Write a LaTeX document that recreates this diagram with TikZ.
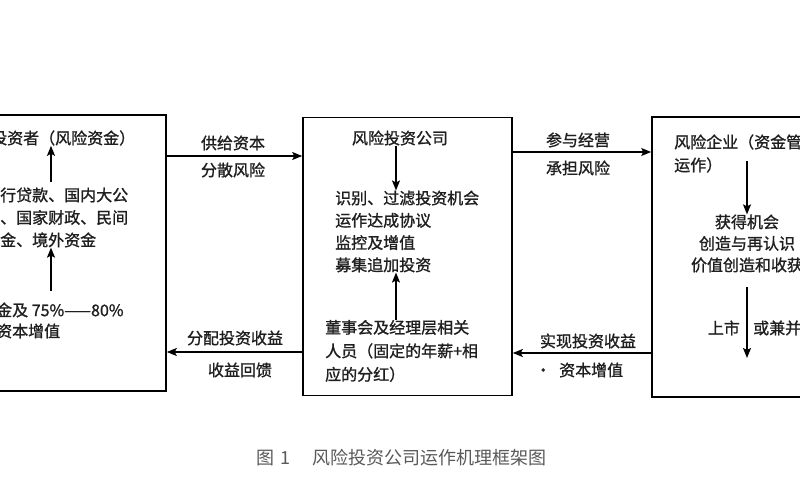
\documentclass[tikz,border=0pt]{standalone}
\usepackage{fontspec}
\setmainfont{Noto Sans CJK SC}
\newfontfamily\boldcjk{Noto Sans CJK SC}[FakeBold=1.2]
\usetikzlibrary{arrows.meta,calc}
\begin{document}
\begin{tikzpicture}[x=1pt,y=-1pt,
  box/.style={draw=black,line width=1.6pt,inner sep=0pt},
  txt/.style={inner sep=0pt,text=black!88,font=\boldcjk\fontsize{16}{22.5}\selectfont},
  arr/.style={line width=1.5pt,-{Stealth[length=10pt,width=8pt,inset=2pt]}},
  lbl/.style={inner sep=0pt,text=black!88,font=\boldcjk\fontsize{16}{20}\selectfont}]
\useasboundingbox (0,0) rectangle (800,500);
\clip (0,0) rectangle (800,500);
\fill[white] (0,0) rectangle (800,500);
% boxes
\node[box,minimum width=226pt,minimum height=276pt] (L) at (53,253) {};
\node[box,minimum width=209pt,minimum height=278pt] (M) at (407.5,256.5) {};
\node[box,minimum width=260pt,minimum height=280pt] (R) at (782,257) {};
% left texts
\node[txt,anchor=west] (L1) at (-9,138) {投资者（风险资金）};
\node[txt,anchor=west,align=left] (L2) at (-16,217.5) {\phantom{银}行贷款、国内大公\\\phantom{司}、国家财政、民间\\\phantom{资}金、境外资金};
\node[txt,anchor=west,align=left,font=\boldcjk\fontsize{16}{21}\selectfont] (L3) at (-4,320.5) {金及 75\%——80\%\\资本增值};
\coordinate (xL) at (51,0);
\coordinate (l2t) at (51,182);
\coordinate (l3t) at (51,291);
\draw[arr] (l2t) -- (L1.south -| xL);
\draw[arr] (l3t) -- (L2.south -| xL);
% middle texts
\node[txt] (M1) at (400,138) {风险投资公司};
\node[txt,anchor=west,align=left,font=\boldcjk\fontsize{16}{22.3}\selectfont] (M2) at (335,231.5) {识别、过滤投资机会\\运作达成协议\\监控及增值\\募集追加投资};
\node[txt,anchor=west,align=left,font=\boldcjk\fontsize{16}{23.5}\selectfont] (M3) at (325,351) {董事会及经理层相关\\人员（固定的年薪+相\\应的分红）};
\coordinate (xM) at (396,0);
\draw[arr] (M1.south -| xM) -- (M2.north -| xM);
\draw[arr] (M3.north -| xM) -- (M2.south -| xM);
% right texts
\node[txt,anchor=west,align=left,font=\boldcjk\fontsize{16}{23}\selectfont] (R1) at (674,153.5) {风险企业（资金管\\运作）};
\node[txt,align=center,font=\boldcjk\fontsize{16}{21.5}\selectfont] (R2) at (747,243.5) {获得机会\\创造与再认识\\价值创造和收获};
\coordinate (r1s) at (747,161);
\coordinate (r2s) at (747,287);
\coordinate (r3e) at (747,358);
\draw[arr] (r1s) -- (R2.north);
\draw[arr] (r2s) -- (r3e);
\node[txt,anchor=east] (ss) at (740,328) {上市};
\node[txt,anchor=west] (jb) at (753,328) {或兼并};
% connectors between boxes
\coordinate (y1) at (0,156);
\coordinate (y2) at (0,152);
\coordinate (y3) at (0,352);
\coordinate (y4) at (0,353);
\draw[arr] (L.east |- y1) -- (M.west |- y1);
\draw[arr] (M.east |- y2) -- (R.west |- y2);
\draw[arr] (M.west |- y3) -- (L.east |- y3);
\draw[arr] (R.west |- y4) -- (M.east |- y4);
% connector labels
\node[lbl] (a1) at (233,143) {供给资本};
\node[lbl] (a2) at (233,170) {分散风险};
\node[lbl] (b1) at (578,140) {参与经营};
\node[lbl] (b2) at (578,168) {承担风险};
\node[lbl] (c1) at (235,338) {分配投资收益};
\node[lbl] (c2) at (240,370) {收益回馈};
\node[lbl] (d1) at (588,341) {实现投资收益};
\node[lbl,anchor=west] (d2) at (535,370) {·\hspace{8pt}资本增值};
% caption
\node[inner sep=0pt,anchor=west,text=black!65,font=\fontsize{18}{20}\selectfont] (cap) at (256,458) {图\hspace{6pt}1\hspace{22pt}风险投资公司运作机理框架图};
\end{tikzpicture}
\end{document}
